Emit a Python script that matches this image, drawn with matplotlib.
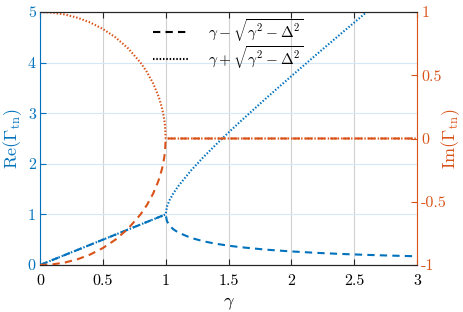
import matplotlib
matplotlib.use('Agg')
import matplotlib.pyplot as plt

plt.rcParams['font.family'] = ['cmr10', 'DejaVu Sans']
plt.rcParams['mathtext.fontset'] = 'cm'
plt.rcParams['axes.unicode_minus'] = False

blue = '#0072BD'
orange = '#D95319'

# gamma samples (Delta = 1)
gamma = [0, 0.1, 0.2, 0.3, 0.4, 0.5, 0.6, 0.7, 0.8, 0.85, 0.9, 0.94, 0.95, 0.97,
         0.98, 0.99, 0.995, 1.0, 1.01, 1.03, 1.06, 1.1, 1.2, 1.3, 1.4, 1.5, 1.6,
         1.8, 2.0, 2.2, 2.4, 2.6, 2.8, 3.0]

# Re(gamma - sqrt(gamma^2 - Delta^2))
re_minus = [0, 0.1, 0.2, 0.3, 0.4, 0.5, 0.6, 0.7, 0.8, 0.85, 0.9, 0.94, 0.95, 0.97,
            0.98, 0.99, 0.995, 1.0, 0.868, 0.783, 0.708, 0.642, 0.537, 0.469, 0.420,
            0.382, 0.351, 0.303, 0.268, 0.240, 0.218, 0.200, 0.185, 0.172]
# Re(gamma + sqrt(gamma^2 - Delta^2))
re_plus = [0, 0.1, 0.2, 0.3, 0.4, 0.5, 0.6, 0.7, 0.8, 0.85, 0.9, 0.94, 0.95, 0.97,
           0.98, 0.99, 0.995, 1.0, 1.152, 1.277, 1.412, 1.558, 1.863, 2.131, 2.380,
           2.618, 2.849, 3.297, 3.732, 4.160, 4.582, 5.000, 5.415, 5.828]
# Im(gamma - sqrt(...)) and Im(gamma + sqrt(...))
im_minus = [-1.0, -0.995, -0.980, -0.954, -0.917, -0.866, -0.800, -0.714, -0.600,
            -0.527, -0.436, -0.341, -0.312, -0.243, -0.199, -0.141, -0.100, 0.0,
            0, 0, 0, 0, 0, 0, 0, 0, 0, 0, 0, 0, 0, 0, 0, 0]
im_plus = [1.0, 0.995, 0.980, 0.954, 0.917, 0.866, 0.800, 0.714, 0.600,
           0.527, 0.436, 0.341, 0.312, 0.243, 0.199, 0.141, 0.100, 0.0,
           0, 0, 0, 0, 0, 0, 0, 0, 0, 0, 0, 0, 0, 0, 0, 0]

xticks = [0, 0.5, 1, 1.5, 2, 2.5, 3]
xticklabels = ['0', '0.5', '1', '1.5', '2', '2.5', '3']
lticks = [0, 1, 2, 3, 4, 5]
rticks = [-1, -0.5, 0, 0.5, 1]
rticklabels = ['-1', '-0.5', '0', '0.5', '1']

fig = plt.figure(figsize=(4.63, 3.12), dpi=100)
ax = fig.add_axes([40/463, 1-265/312, (417-40)/463, (265-12)/312])
ax2 = ax.twinx()

lw = 1.5
ax.plot(gamma, re_minus, color=blue, lw=lw, ls=(0, (3.5, 2.5)))
ax.plot(gamma, re_plus, color=blue, lw=lw, ls=(0, (0.7, 0.9)))
ax2.plot(gamma, im_minus, color=orange, lw=lw, ls=(0, (3.5, 2.5)))
ax2.plot(gamma, im_plus, color=orange, lw=lw, ls=(0, (0.7, 0.9)))

# legend entries in black
h1, = ax2.plot([], [], color='k', lw=lw, ls=(0, (3.5, 2.5)))
h2, = ax2.plot([], [], color='k', lw=lw, ls=(0, (0.7, 0.9)))
ax2.legend([h1, h2], [r'$\gamma-\sqrt{\gamma^2-\Delta^2}$', r'$\gamma+\sqrt{\gamma^2-\Delta^2}$'],
           loc='upper center', bbox_to_anchor=(0.5, 1.035), frameon=False, fontsize=11,
           handlelength=2.3, labelspacing=0.0, handletextpad=1.3)

ax.set_xlim(0, 3)
ax.set_ylim(0, 5)
ax2.set_ylim(-1, 1)
ax.set_xticks(xticks)
ax.set_xticklabels(xticklabels)
ax.set_yticks(lticks)
ax.set_yticklabels([str(t) for t in lticks])
ax2.set_yticks(rticks)
ax2.set_yticklabels(rticklabels)

ax.grid(True, axis='x', color='#d0d0d0', lw=0.8)
ax.grid(True, axis='y', color='#d6e8f5', lw=0.8)
ax.set_axisbelow(True)

ax.tick_params(axis='x', direction='in', top=True, length=4, labelsize=11.5, pad=7, color='#262626')
ax.tick_params(axis='y', direction='in', length=4, labelsize=11.5, colors=blue, pad=3)
ax2.tick_params(axis='y', direction='in', length=4, labelsize=11.5, colors=orange, pad=3)

ax.spines['left'].set_color(blue)
ax2.spines['left'].set_visible(False)
ax2.spines['right'].set_color(orange)
ax.spines['right'].set_visible(False)
for s in ['top', 'bottom']:
    ax.spines[s].set_color('#262626')
    ax2.spines[s].set_color('#262626')

ax.set_xlabel(r'$\gamma$', fontsize=13)
ax.xaxis.set_label_coords(0.5, -0.12)
ax.set_ylabel(r'$\mathrm{Re}(\Gamma_{\mathrm{tn}})$', fontsize=13, color=blue)
ax.yaxis.set_label_coords(-0.042, 0.5)
ax2.set_ylabel(r'$\mathrm{Im}(\Gamma_{\mathrm{tn}})$', fontsize=13, color=orange)
ax2.yaxis.set_label_coords(1.06, 0.5)

fig.savefig('out.png', dpi=100)
